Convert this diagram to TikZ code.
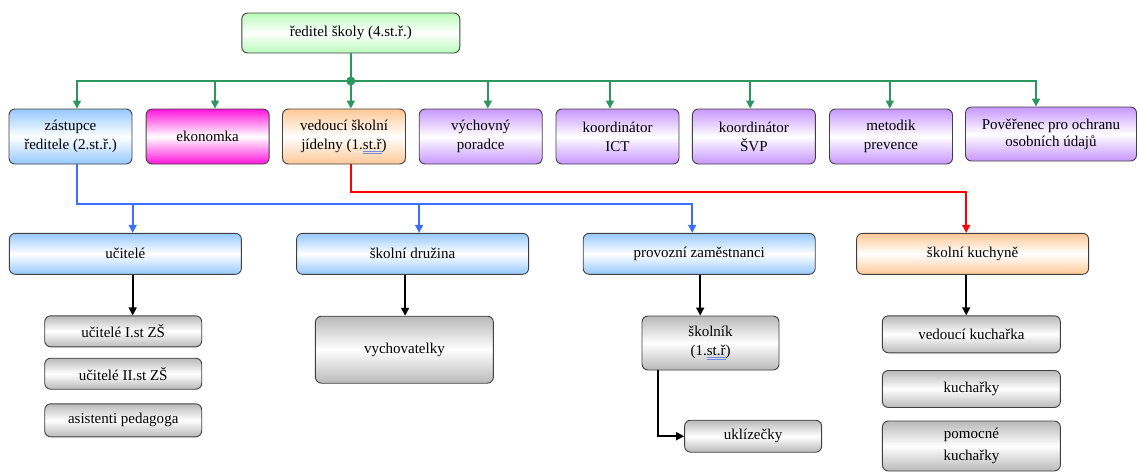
\documentclass[tikz,border=0pt]{standalone}
\usepackage{fontspec}
\setmainfont{Liberation Serif}
\usetikzlibrary{arrows.meta}

\definecolor{boxgreen}{RGB}{185,250,185}
\definecolor{boxblue}{RGB}{150,200,255}
\definecolor{boxpink}{RGB}{255,20,220}
\definecolor{boxorange}{RGB}{255,200,150}
\definecolor{boxviolet}{RGB}{200,150,255}
\definecolor{boxgray}{RGB}{185,185,185}
\definecolor{linegreen}{RGB}{45,150,95}
\definecolor{lineblue}{RGB}{60,110,255}
\definecolor{spellblue}{RGB}{110,140,230}

% spell-check mark under "st.ř"
\newcommand{\spellmark}[1]{\textcolor{spellblue}{\underline{\underline{\textcolor{black}{#1}}}}}

\begin{document}
\begin{tikzpicture}[x=1pt, y=-1pt,
    box/.style={draw=black!75, line width=0.9pt, rounded corners=6pt, align=center,
        inner sep=2pt, font=\fontsize{15}{19}\selectfont},
    boxfill/.style={top color=#1, bottom color=#1, middle color=white},
    greenbox/.style={box, boxfill=boxgreen},
    bluebox/.style={box, boxfill=boxblue},
    pinkbox/.style={box, boxfill=boxpink},
    orangebox/.style={box, boxfill=boxorange},
    violetbox/.style={box, boxfill=boxviolet},
    graybox/.style={box, boxfill=boxgray},
    rowtwo/.style={minimum width=123pt, minimum height=55pt},
    rowthree/.style={minimum width=232pt, minimum height=41pt},
    greenarrow/.style={draw=linegreen, line width=1.6pt, -{Triangle[length=8pt,width=8pt]}},
    bluearrow/.style={draw=lineblue, line width=1.6pt, -{Triangle[length=8pt,width=8pt]}},
    redarrow/.style={draw=red, line width=1.6pt, -{Triangle[length=8pt,width=8pt]}},
    blackarrow/.style={draw=black, line width=1.6pt, -{Triangle[length=8pt,width=8pt]}}
]
    \useasboundingbox (0,0) rectangle (1139,472);

    % Head of school
    \node[greenbox, minimum width=218pt, minimum height=40pt] (reditel) at (350.8,33) {ředitel školy (4.st.ř.)};

    % Second row: y = 136.5
    \node[bluebox, rowtwo] (zastupce) at (70.5,136.5) {zástupce\\ředitele (2.st.ř.)};
    \node[pinkbox, rowtwo] (ekonomka) at (207.6,136.5) {ekonomka};
    \node[orangebox, rowtwo] (jidelna) at (344,136.5) {vedoucí školní\\jídelny (1.\spellmark{st.ř})};
    \node[violetbox, rowtwo] (poradce) at (480.7,136.5) {výchovný\\poradce};
    \node[violetbox, rowtwo] (ict) at (617.5,136.5) {koordinátor\\ICT};
    \node[violetbox, rowtwo] (svp) at (753.9,136.5) {koordinátor\\ŠVP};
    \node[violetbox, rowtwo] (prevence) at (891,136.5) {metodik\\prevence};
    \node[violetbox, minimum width=171pt, minimum height=54pt, font=\fontsize{15}{17}\selectfont] (gdpr) at (1051,134)
        {Pověřenec pro ochranu\\osobních údajů};

    % Third row: y = 253.8
    \node[bluebox, rowthree] (ucitele) at (125.4,253.8) {učitelé};
    \node[bluebox, rowthree] (druzina) at (412.6,253.8) {školní družina};
    \node[bluebox, rowthree] (provozni) at (699.2,253.8) {provozní zaměstnanci};
    \node[orangebox, rowthree] (kuchyne) at (972.6,253.8) {školní kuchyně};

    % Teachers
    \node[graybox, minimum width=157pt, minimum height=31pt] (ucitelI) at (123.2,331.3) {učitelé I.st ZŠ};
    \node[graybox, minimum width=157pt, minimum height=31pt] (ucitelII) at (123.2,373.7) {učitelé II.st ZŠ};
    \node[graybox, minimum width=157pt, minimum height=33pt] (asistenti) at (123.2,420.3) {asistenti pedagoga};

    % After-school club
    \node[graybox, minimum width=178pt, minimum height=67pt] (vychovatelky) at (404.4,349.7) {vychovatelky};

    % Operations staff
    \node[graybox, minimum width=137pt, minimum height=54pt] (skolnik) at (710.5,343) {školník\\(1.\spellmark{st.ř})};
    \node[graybox, minimum width=137pt, minimum height=32pt] (uklizecky) at (753.1,436.2) {uklízečky};

    % Kitchen
    \node[graybox, minimum width=178pt, minimum height=37pt] (vedkucharka) at (971.4,334.3) {vedoucí kuchařka};
    \node[graybox, minimum width=178pt, minimum height=37pt] (kucharky) at (971.4,389) {kuchařky};
    \node[graybox, minimum width=178pt, minimum height=50pt, font=\fontsize{15}{22}\selectfont] (pomocne) at (971.4,446)
        {pomocné\\kuchařky};

    % Green connectors from the head
    \coordinate (split) at (350.8,81);
    \draw[linegreen, line width=1.6pt] (reditel.south) -- (split);
    \draw[greenarrow] (split) -| ([xshift=6.5pt]zastupce.north);
    \draw[greenarrow] (split) -| ([xshift=7.4pt]ekonomka.north);
    \draw[greenarrow] (split) -- ([xshift=6.8pt]jidelna.north);
    \draw[greenarrow] (split) -| ([xshift=7.1pt]poradce.north);
    \draw[greenarrow] (split) -| ([xshift=-7.5pt]ict.north);
    \draw[greenarrow] (split) -| ([xshift=-3.7pt]svp.north);
    \draw[greenarrow] (split) -| ([xshift=-1.2pt]prevence.north);
    \draw[greenarrow] (split) -| ([xshift=-15pt]gdpr.north);
    \fill[linegreen] (split) circle (4.5pt);

    % Blue connectors from the deputy
    \coordinate (bluebus) at (77,204);
    \draw[bluearrow] ([xshift=6.5pt]zastupce.south) -- (bluebus) -| ([xshift=-7pt]provozni.north);
    \draw[bluearrow] (bluebus) -| ([xshift=7.3pt]ucitele.north);
    \draw[bluearrow] (bluebus) -| ([xshift=6.5pt]druzina.north);

    % Red connector to the kitchen
    \draw[redarrow] ([xshift=6.8pt]jidelna.south) -- ++(0,27.7) -| ([xshift=-6.4pt]kuchyne.north);

    % Black connectors
    \draw[blackarrow] ([xshift=7.3pt]ucitele.south) -- ([xshift=7.3pt]ucitele.south |- ucitelI.north);
    \draw[blackarrow] ([xshift=-7.5pt]druzina.south) -- ([xshift=-7.5pt]druzina.south |- vychovatelky.north);
    \draw[blackarrow] ([xshift=1pt]provozni.south) -- ([xshift=1pt]provozni.south |- skolnik.north);
    \draw[blackarrow] ([xshift=-52.6pt]skolnik.south) |- (uklizecky.west);
    \draw[blackarrow] ([xshift=-6.4pt]kuchyne.south) -- ([xshift=-6.4pt]kuchyne.south |- vedkucharka.north);
\end{tikzpicture}
\end{document}
